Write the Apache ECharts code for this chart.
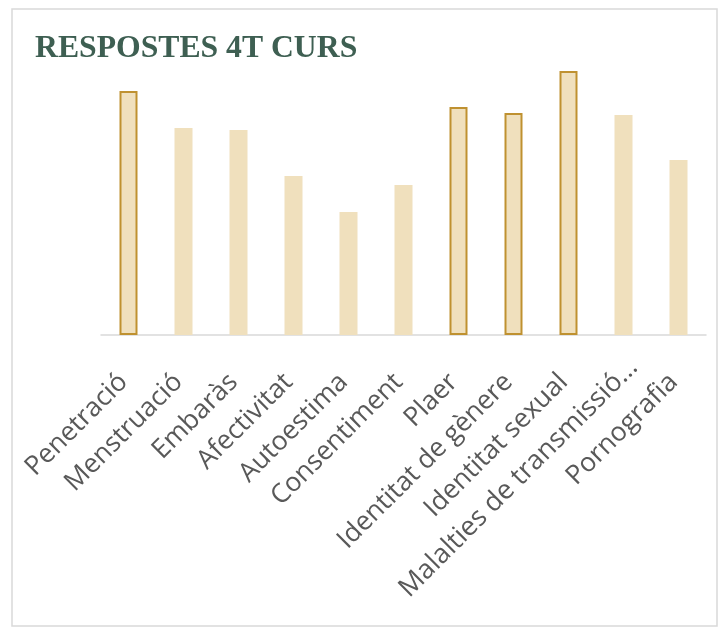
<!DOCTYPE html>
<html>
<head>
<meta charset="utf-8">
<script src="https://cdn.jsdelivr.net/npm/echarts@6/dist/echarts.min.js"></script>
<style>
html,body{margin:0;padding:0;background:#fff;}
#chart{width:726px;height:628px;}
</style>
</head>
<body>
<div id="chart"></div>
<script>
const categories = ['Penetració','Menstruació','Embaràs','Afectivitat','Autoestima','Consentiment','Plaer','Identitat de gènere','Identitat sexual','Malalties de transmissió sexual','Pornografia'];
const values = [24.4, 20.7, 20.5, 15.9, 12.3, 15.0, 22.8, 22.2, 26.4, 22.0, 17.5];
const highlighted = ['Penetració','Plaer','Identitat de gènere','Identitat sexual'];
const titleText = 'RESPOSTES 4T CURS';

const chart = echarts.init(document.getElementById('chart'));
const data = values.map((v, i) => {
  const hl = highlighted.includes(categories[i]);
  return {
    value: v,
    itemStyle: hl ? {color:'#F0E0BD', borderColor:'#BF9130', borderWidth:2} : {color:'#F0E0BD', borderWidth:0}
  };
});
chart.setOption({
  animation:false,
  backgroundColor:'#ffffff',
  title:{
    text:titleText, left:30, top:28,
    textStyle:{fontFamily:'Liberation Serif', fontWeight:'bold', fontSize:31.7, color:'#3E5F52'}
  },
  graphic:[{
    type:'rect', shape:{x:12,y:9,width:705,height:617},
    style:{fill:'none', stroke:'#D9D9D9', lineWidth:1.5}, silent:true, z:-1
  }],
  grid:{left:101, right:20, top:35, bottom:293, containLabel:false},
  xAxis:{
    type:'category', data:categories,
    axisLine:{lineStyle:{color:'#D9D9D9', width:1.5}},
    axisTick:{show:false},
    axisLabel:{
      interval:0, rotate:45, margin:38,
      fontFamily:'Open Sans', fontSize:26.5, color:'#595959',
      formatter:function(s){
        if (s.length > 24) return '{m|' + s.slice(0,24) + '…}';
        return '{n|' + s + '}';
      },
      rich:{
        n:{fontFamily:'Open Sans', fontSize:26.5, color:'#595959', padding:[0,7,0,0]},
        m:{fontFamily:'Open Sans', fontSize:27, color:'#595959', padding:[0,-14,0,0]}
      }
    }
  },
  yAxis:{type:'value', min:0, max:30, show:false, splitLine:{show:false}},
  series:[{type:'bar', data:data, barWidth:18}]
});
</script>
</body>
</html>
